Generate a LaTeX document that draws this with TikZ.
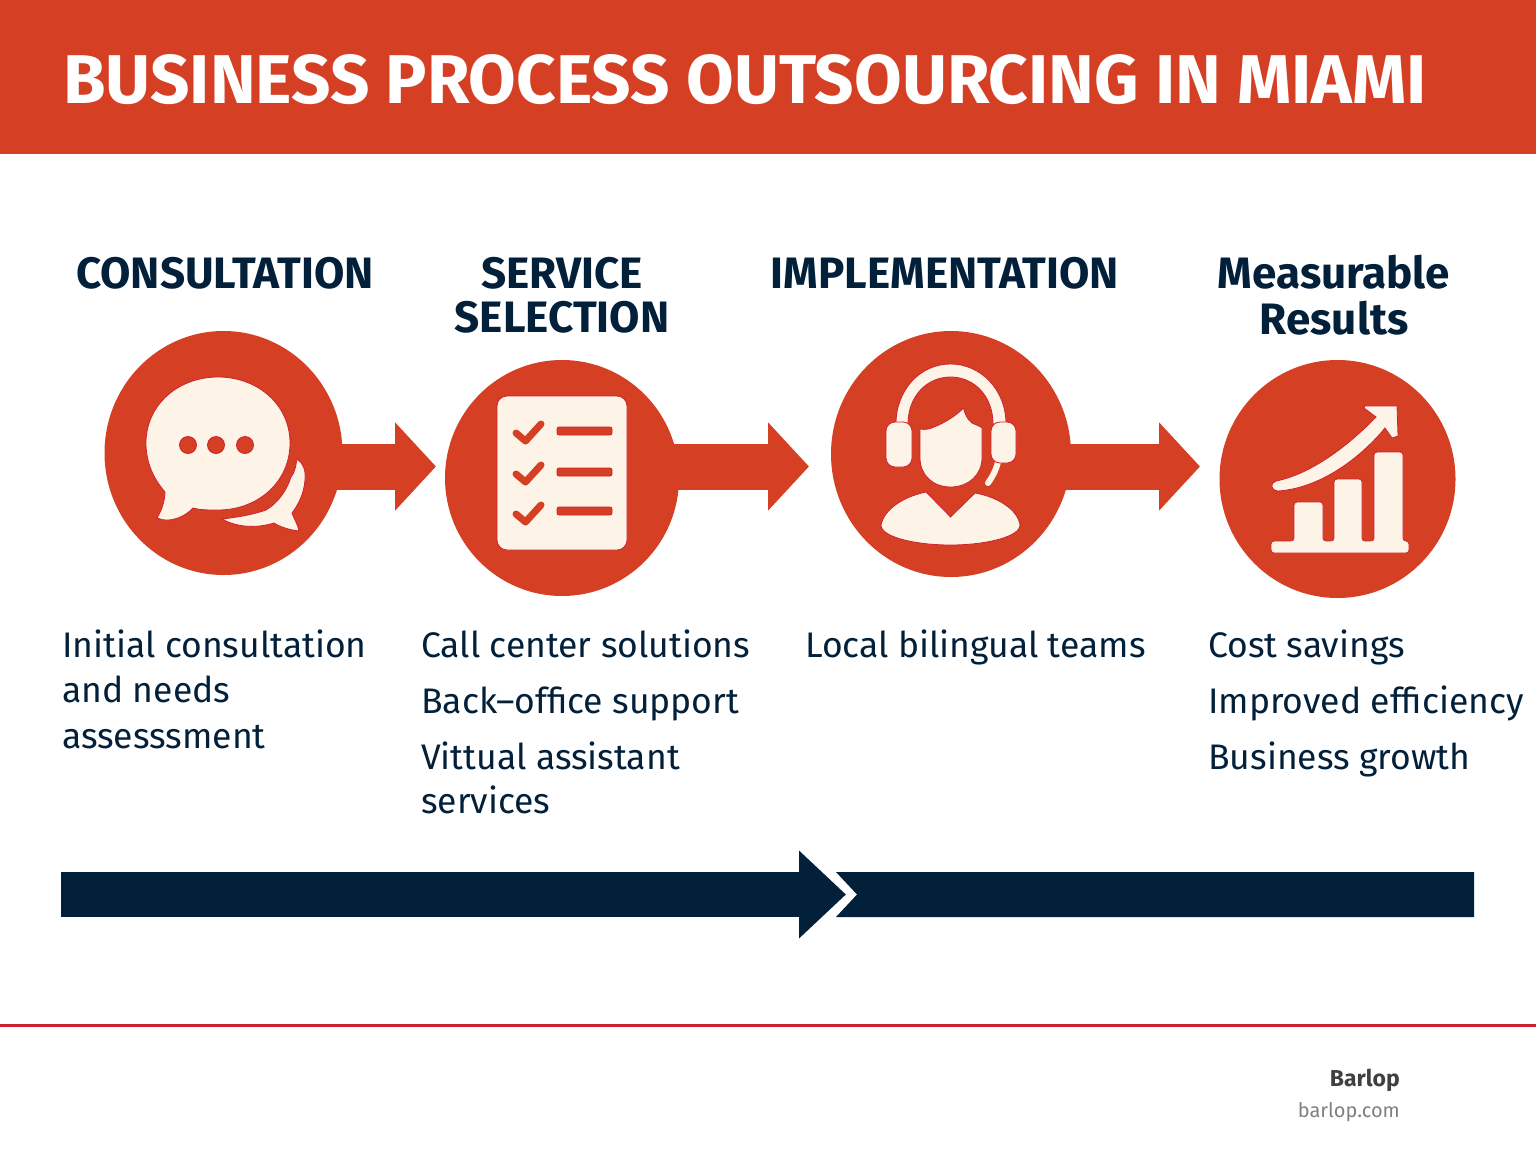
\documentclass[tikz,border=0pt]{standalone}
\usepackage{fontspec}
\setmainfont{Fira Sans}
\usetikzlibrary{arrows.meta,shapes.geometric}
\definecolor{brickred}{HTML}{D53F24}
\definecolor{linered}{HTML}{CF2030}
\definecolor{navy}{HTML}{02203A}
\definecolor{cream}{HTML}{FDF3E6}
\begin{document}
\begin{tikzpicture}[x=1pt,y=-1pt,
  banner/.style={font=\bfseries\fontsize{69}{72}\selectfont, text=white, anchor=base west, inner sep=0pt},
  heading/.style={font=\bfseries\fontsize{44}{48}\selectfont, text=navy, anchor=base, inner sep=0pt},
  item/.style={font=\fontsize{35.5}{40}\selectfont, text=navy, anchor=base west, inner sep=0pt},
  disc/.style={ellipse, fill=brickred, inner sep=0pt},
  flow/.style={draw=brickred, line width=46pt, -{Triangle[length=41pt,width=86pt,sep=0pt]}},
  timeline/.style={draw=navy, line width=45pt, -{Triangle[length=47pt,width=85pt,sep=0pt]}},
  icon/.style={fill=cream, draw=linered, line width=0.8pt},
  tick/.style={draw=brickred, line width=7pt, line cap=round, line join=round},
  hole/.style={fill=brickred, draw=linered, line width=0.8pt}]
  \useasboundingbox (0,0) rectangle (1536,1154);
  \fill[brickred] (0,0) rectangle (1536,154);
  \node[banner] (title) at (63,103) {BUSINESS PROCESS OUTSOURCING IN MIAMI};

  \node[heading] (headConsult) at (225,288) {CONSULTATION};
  \node[heading] (headService) at (562,288) {SERVICE};
  \node[heading] (headSelect) at (562,332) {SELECTION};
  \node[heading] (headImpl) at (945,288) {IMPLEMENTATION};
  \node[heading] (headResult) at (1334,288) {Measurable};
  \node[heading] (headResultB) at (1334,334) {Results};

  \coordinate (tipA) at (436,466.5);
  \coordinate (tipB) at (809,466.5);
  \coordinate (tipC) at (1200,466.5);
  \node[disc, minimum width=238pt, minimum height=244pt] (discConsult) at (223.5,453) {};
  \node[disc, minimum width=234pt, minimum height=236pt] (discService) at (562,478) {};
  \node[disc, minimum width=240pt, minimum height=246pt] (discImpl) at (951,454) {};
  \node[disc, minimum width=236pt, minimum height=238pt] (discResult) at (1337.5,479) {};
  \draw[flow] (discConsult.center |- tipA) -- (tipA);
  \draw[flow] (discService.center |- tipB) -- (tipB);
  \draw[flow] (discImpl.center |- tipC) -- (tipC);

  \draw[icon] (291,477) .. controls (296,471) and (296,463) .. (297,459)
    .. controls (303,463) and (306,470) .. (305,480)
    .. controls (304,494) and (298,505) .. (292,513)
    .. controls (294,519) and (298,525) .. (299,531)
    .. controls (290,530) and (280,527) .. (274,523)
    .. controls (258,528) and (238,528) .. (222,519)
    .. controls (240,517) and (255,514) .. (266,510)
    .. controls (278,503) and (287,490) .. (291,477) -- cycle;
  \draw[icon] (165,492) .. controls (153,478) and (146,462) .. (146,443)
    .. controls (146,405) and (178,377) .. (218,377)
    .. controls (258,377) and (290,405) .. (290,443)
    .. controls (290,482) and (258,510) .. (218,510)
    .. controls (208,510) and (200,510) .. (193,508)
    .. controls (186,516) and (170,524) .. (157,518)
    .. controls (162,510) and (165,500) .. (165,492) -- cycle;
  \draw[hole] (188,445) circle (8.5);
  \draw[hole] (216,445) circle (8.5);
  \draw[hole] (245,445) circle (8.5);

  \draw[icon, rounded corners=10pt] (497,396) rectangle (627,550);
  \draw[tick] (516,433) -- (525.5,441) -- (541,424);
  \draw[tick] (516,474) -- (525.5,482) -- (541,465);
  \draw[tick] (516,514) -- (525.5,522) -- (541,505);
  \draw[hole, rounded corners=2pt] (557,427) rectangle (612,435);
  \draw[hole, rounded corners=2pt] (557,468) rectangle (612,476);
  \draw[hole, rounded corners=2pt] (557,507) rectangle (612,515);

  \draw[icon] (896,424) .. controls (896,390) and (920,364) .. (950.5,364)
    .. controls (981,364) and (1006,390) .. (1006,424)
    -- (993,424) .. controls (993,396) and (974,377) .. (950.5,377)
    .. controls (927,377) and (908,396) .. (908,424) -- cycle;
  \draw[cream, line width=6pt, line cap=round] (998,462) .. controls (996,470) and (993,476) .. (988,483);
  \draw[icon, rounded corners=9pt] (886,422) rectangle (912,467);
  \draw[icon, rounded corners=9pt] (991,422) rectangle (1016,463);
  \draw[icon] (920,429) .. controls (925,430) and (930,429) .. (934,427)
    .. controls (945,423) and (958,414) .. (963.5,408)
    .. controls (965,415) and (968,420) .. (972,423)
    .. controls (976,425) and (980,426) .. (982,428)
    -- (982,458) .. controls (982,475) and (968,487) .. (950.5,487)
    .. controls (933,487) and (920,475) .. (920,458) -- cycle;
  \draw[icon] (926,492) -- (950.5,517) -- (975,493)
    .. controls (998,497) and (1018,510) .. (1020,525)
    .. controls (1020,537) and (985,545) .. (950.5,545)
    .. controls (915,545) and (881,537) .. (881,525)
    .. controls (884,510) and (902,497) .. (926,492) -- cycle;

  \draw[icon, rounded corners=3pt] (1271,541) -- (1294,541) -- (1294,502) -- (1323,502) -- (1323,541)
    -- (1334,541) -- (1334,479) -- (1362,479) -- (1362,541)
    -- (1374,541) -- (1374,452) -- (1403,452) -- (1403,541)
    -- (1409,541) -- (1409,553) -- (1271,553) -- cycle;
  \draw[icon] (1276,481) .. controls (1312,474) and (1350,444) .. (1376,417)
    -- (1364,408) -- (1365,406) -- (1397,406) -- (1398,436) -- (1392,438) -- (1385,428)
    .. controls (1362,456) and (1322,488) .. (1278,491)
    .. controls (1270,490) and (1270,483) .. (1276,481) -- cycle;

  \node[item] (consultA) at (62,657) {Initial consultation};
  \node[item] (consultB) at (62,702) {and needs};
  \node[item] (consultC) at (62,748) {assesssment};
  \node[item] (serviceA) at (421,657) {Call center solutions};
  \node[item] (serviceB) at (421,713) {Back--office support};
  \node[item] (serviceC) at (421,769) {Vittual assistant};
  \node[item] (serviceD) at (421,813) {services};
  \node[item] (implA) at (805,657) {Local bilingual teams};
  \node[item] (resultA) at (1208,657) {Cost savings};
  \node[item] (resultB) at (1208,713) {Improved efficiency};
  \node[item] (resultC) at (1208,769) {Business growth};

  \coordinate (barStart) at (61,894.5);
  \coordinate (barTip) at (846,894.5);
  \draw[timeline] (barStart) -- (barTip);
  \fill[navy] (836,872) -- (1474,872) -- (1474,917) -- (836,917) -- (857,894.5) -- cycle;

  \draw[linered, line width=3pt] (0,1025) -- (1536,1025);
  \node[font=\bfseries\fontsize{23}{26}\selectfont, text=black!75, anchor=base east, inner sep=0pt] (brand) at (1400,1086) {Barlop};
  \node[font=\fontsize{20}{24}\selectfont, text=black!50, anchor=base east, inner sep=0pt] (site) at (1400,1117) {barlop.com};
\end{tikzpicture}
\end{document}
